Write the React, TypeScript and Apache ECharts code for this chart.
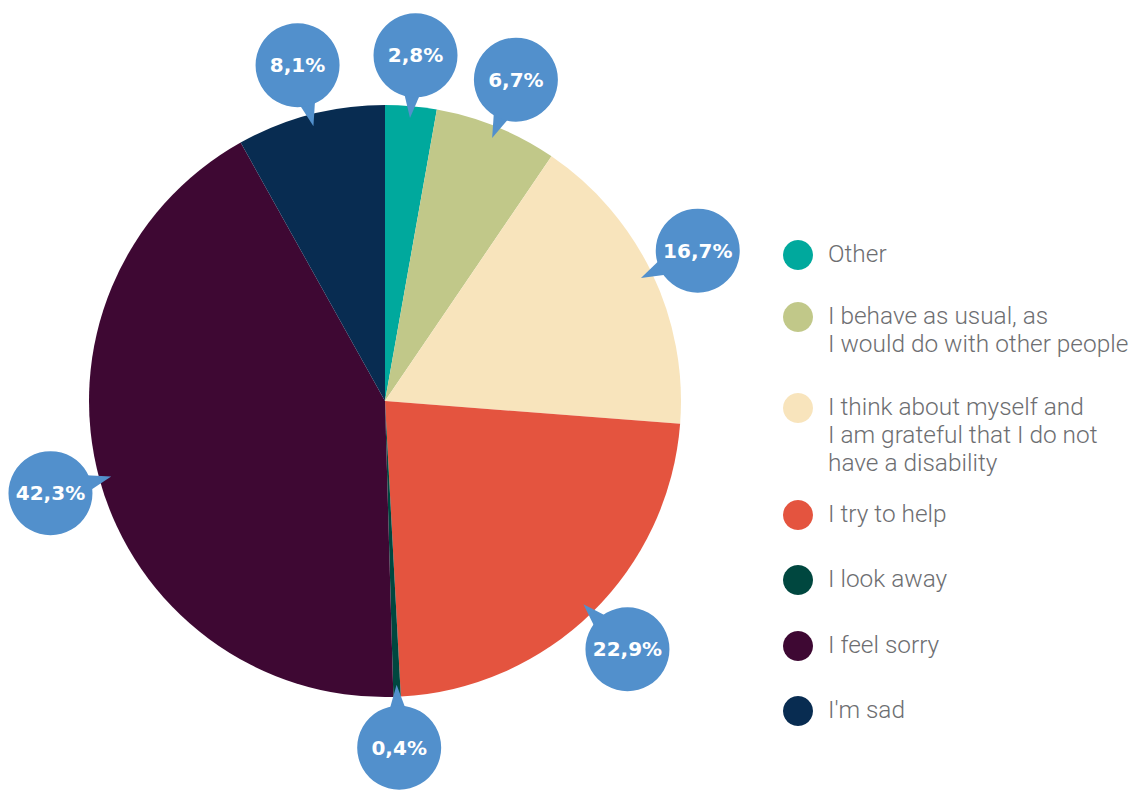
import React, { useEffect, useRef } from 'react';
import * as echarts from 'echarts';

// ---- data ----
const categories: string[] = [
  'Other',
  'I behave as usual, as\nI would do with other people',
  'I think about myself and\nI am grateful that I do not\nhave a disability',
  'I try to help',
  'I look away',
  'I feel sorry',
  "I'm sad",
];
const shares: number[] = [2.8, 6.7, 16.7, 22.9, 0.4, 42.3, 8.1];

// ---- styles / layout ----
const sliceColors: string[] = ['#00a99d', '#c1c889', '#f8e4bc', '#e4543f', '#00473f', '#3e0833', '#082c51'];
const BUBBLE_COLOR = '#5290cc';
const CENTER: [number, number] = [385, 401];
const PIE_R = 296;
const BUBBLE_DIST = 347; // distance of bubble centre from pie centre
const TIP_DIST = 284; // distance of pointer tip from pie centre
const BUBBLE_R = 42;
const BASE_D = 25;
const BASE_HW = 12.5;
const legendRowY: number[] = [255, 317, 408, 515, 580, 646, 711];
const LEGEND_ICON_X = 798;
const LEGEND_TEXT_X = 828;
const LEGEND_LINE_H = 28.3;
const LEGEND_TEXT_SHIFT = -2;

const total = shares.reduce((a, b) => a + b, 0);
const bubbleData = shares.map((v, i) => {
  const before = shares.slice(0, i).reduce((a, b) => a + b, 0);
  return [BUBBLE_DIST, before + v / 2, v];
});

const fmt = (v: number) => v.toFixed(1).replace('.', ',') + '%';

export default function App() {
  const ref = useRef<HTMLDivElement>(null);
  useEffect(() => {
    if (!ref.current) return;
    const chart = echarts.init(ref.current, undefined, { renderer: 'svg' });
    const option: any = {
      animation: false,
      backgroundColor: '#ffffff',
      polar: { center: CENTER, radius: 400 },
      angleAxis: {
        type: 'value', min: 0, max: total, startAngle: 90, clockwise: true, show: false,
        axisLine: { show: false }, axisTick: { show: false }, axisLabel: { show: false }, splitLine: { show: false },
      },
      radiusAxis: {
        type: 'value', min: 0, max: 400, show: false,
        axisLine: { show: false }, axisTick: { show: false }, axisLabel: { show: false }, splitLine: { show: false },
      },
      series: [
        {
          type: 'pie',
          center: CENTER,
          radius: PIE_R,
          startAngle: 90,
          clockwise: true,
          z: 2,
          label: { show: false },
          labelLine: { show: false },
          emphasis: { disabled: true },
          itemStyle: { borderWidth: 0 },
          data: categories.map((name, i) => ({ name, value: shares[i], itemStyle: { color: sliceColors[i] } })),
        },
        {
          type: 'custom',
          coordinateSystem: 'polar',
          z: 5,
          silent: true,
          encode: { radius: 0, angle: 1 },
          data: bubbleData,
          renderItem: (params: any, api: any) => {
            const mid = api.value(1) as number;
            const v = api.value(2) as number;
            const c = api.coord([BUBBLE_DIST, mid]);
            const tip = api.coord([TIP_DIST, mid]);
            const dx = tip[0] - c[0];
            const dy = tip[1] - c[1];
            const len = Math.hypot(dx, dy) || 1;
            const ux = dx / len, uy = dy / len;
            const px = -uy, py = ux;
            const bx = c[0] + ux * BASE_D, by = c[1] + uy * BASE_D;
            return {
              type: 'group',
              children: [
                {
                  type: 'polygon',
                  shape: { points: [[tip[0], tip[1]], [bx + px * BASE_HW, by + py * BASE_HW], [bx - px * BASE_HW, by - py * BASE_HW]] },
                  style: { fill: BUBBLE_COLOR },
                },
                { type: 'circle', shape: { cx: c[0], cy: c[1], r: BUBBLE_R }, style: { fill: BUBBLE_COLOR } },
                {
                  type: 'text',
                  x: c[0],
                  y: c[1],
                  style: {
                    text: fmt(v),
                    fill: '#ffffff',
                    fontFamily: '"DejaVu Sans", Arial, sans-serif',
                    fontWeight: 'bold',
                    fontSize: 20,
                    align: 'center',
                    verticalAlign: 'middle',
                  },
                },
              ],
            };
          },
        },
      ],
      graphic: categories.flatMap((name, i) => [
        {
          type: 'circle',
          shape: { cx: LEGEND_ICON_X, cy: legendRowY[i], r: 15 },
          style: { fill: sliceColors[i] },
        },
        {
          type: 'text',
          x: LEGEND_TEXT_X,
          y: legendRowY[i] - LEGEND_LINE_H / 2 + LEGEND_TEXT_SHIFT,
          style: {
            text: name,
            fill: '#6d6e71',
            fontFamily: 'Roboto, "Liberation Sans", sans-serif',
            fontWeight: 300,
            fontSize: 24.4,
            lineHeight: LEGEND_LINE_H,
            align: 'left',
            verticalAlign: 'top',
          },
        },
      ]),
    };
    chart.setOption(option);
    return () => chart.dispose();
  }, []);
  return <div ref={ref} style={{ position: 'absolute', left: 0, top: 0, width: 1132, height: 796 }} />;
}
